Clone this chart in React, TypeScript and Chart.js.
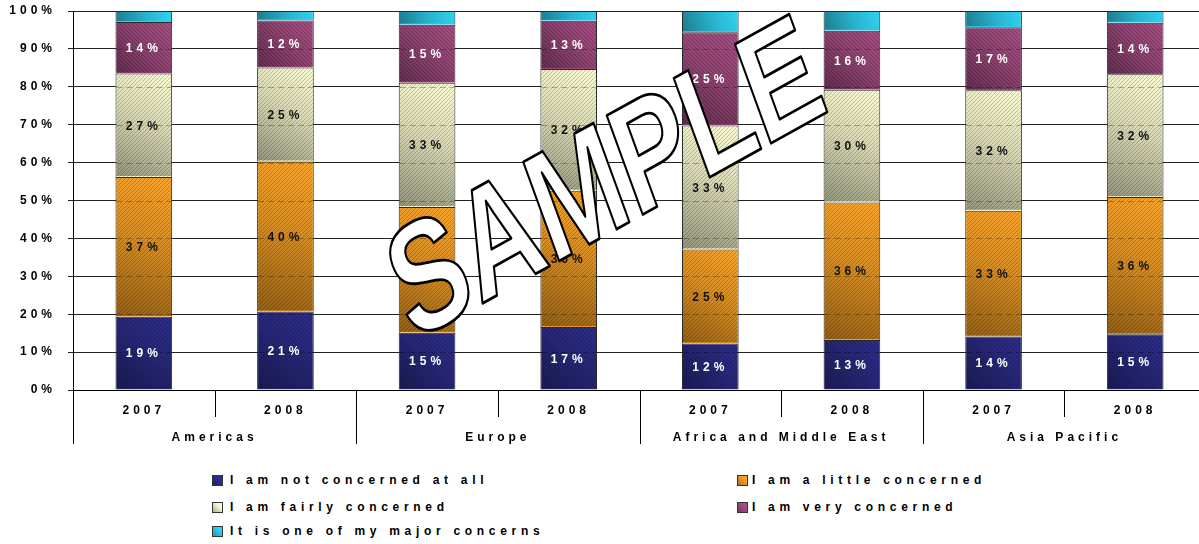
import React, { useEffect, useRef } from 'react';
import { Chart, registerables } from 'chart.js';

Chart.register(...registerables);

const yearLabels = ['2007', '2008', '2007', '2008', '2007', '2008', '2007', '2008'];
const regionLabels = ['Americas', 'Europe', 'Africa and Middle East', 'Asia Pacific'];
const seriesNames = [
  'I am not concerned at all',
  'I am a little concerned',
  'I am fairly concerned',
  'I am very concerned',
  'It is one of my major concerns',
];
const notConcerned = [19.3, 20.7, 15.1, 16.6, 12.3, 13.2, 14.1, 14.7];
const littleConcerned = [36.9, 39.6, 33.2, 36.0, 24.8, 36.3, 33.2, 36.2];
const fairlyConcerned = [27.3, 24.8, 32.8, 32.1, 32.7, 29.7, 31.8, 32.4];
const veryConcerned = [13.6, 12.4, 15.3, 12.7, 24.6, 15.6, 16.6, 13.6];
const majorConcern = [2.9, 2.5, 3.6, 2.6, 5.6, 5.2, 4.3, 3.1];
const seriesValues = [notConcerned, littleConcerned, fairlyConcerned, veryConcerned, majorConcern];

const seriesColors = ['#2C2C90', '#F8A42C', '#FBFBD3', '#A84C84', '#30D2F2'];
const hatchDirs = [-1, 1, 1, -1, 0];
const labelColors = ['#ffffff', '#111111', '#111111', '#ffffff', ''];

const FONT = '"Liberation Sans", Arial, Helvetica, sans-serif';

function makePattern(ctx: CanvasRenderingContext2D, color: string, dir: number) {
  const c = document.createElement('canvas');
  c.width = 4;
  c.height = 4;
  const g = c.getContext('2d') as CanvasRenderingContext2D;
  g.fillStyle = color;
  g.fillRect(0, 0, 4, 4);
  if (dir !== 0) {
    g.strokeStyle = 'rgba(0,0,0,0.2)';
    g.lineWidth = 1;
    g.beginPath();
    if (dir > 0) {
      g.moveTo(-1, 5); g.lineTo(5, -1);
      g.moveTo(-1, 1); g.lineTo(1, -1);
      g.moveTo(3, 5); g.lineTo(5, 3);
    } else {
      g.moveTo(-1, -1); g.lineTo(5, 5);
      g.moveTo(3, -1); g.lineTo(5, 1);
      g.moveTo(-1, 3); g.lineTo(1, 5);
    }
    g.stroke();
  }
  return ctx.createPattern(c, 'repeat') as CanvasPattern;
}

const spacingPlugin = {
  id: 'spacing',
  beforeUpdate(chart: any) { chart.ctx.letterSpacing = '4px'; },
  beforeLayout(chart: any) { chart.ctx.letterSpacing = '4px'; },
  beforeDraw(chart: any) { chart.ctx.letterSpacing = '4px'; },
};

const barDecorPlugin = {
  id: 'barDecor',
  afterDatasetsDraw(chart: any) {
    const ctx: CanvasRenderingContext2D = chart.ctx;
    const yScale = chart.scales.y;
    ctx.save();
    chart.data.datasets.forEach((ds: any, di: number) => {
      const meta = chart.getDatasetMeta(di);
      meta.data.forEach((el: any) => {
        const { x, y, base, width } = el.getProps(['x', 'y', 'base', 'width'], true);
        const l = x - width / 2;
        const r = x + width / 2;
        const t = Math.min(y, base);
        const b = Math.max(y, base);
        const g = ctx.createLinearGradient(l, b, r, t);
        g.addColorStop(0, 'rgba(0,0,0,0.42)');
        g.addColorStop(0.55, 'rgba(0,0,0,0.14)');
        g.addColorStop(1, 'rgba(0,0,0,0)');
        ctx.fillStyle = g;
        ctx.fillRect(l + 1, t + 1, width - 2, b - t - 2);
        ctx.setLineDash([6, 4]);
        ctx.strokeStyle = 'rgba(0,0,0,0.28)';
        ctx.lineWidth = 1;
        for (let v = 10; v < 100; v += 10) {
          const py = Math.round(yScale.getPixelForValue(v)) + 0.5;
          if (py > t + 2 && py < b - 2) {
            ctx.beginPath();
            ctx.moveTo(l + 1, py);
            ctx.lineTo(r - 1, py);
            ctx.stroke();
          }
        }
        ctx.setLineDash([]);
      });
    });
    ctx.font = `bold 12px ${FONT}`;
    (ctx as any).letterSpacing = '4px';
    ctx.textAlign = 'center';
    ctx.textBaseline = 'middle';
    chart.data.datasets.forEach((ds: any, di: number) => {
      if (!labelColors[di]) return;
      const meta = chart.getDatasetMeta(di);
      meta.data.forEach((el: any, i: number) => {
        const { x, y, base } = el.getProps(['x', 'y', 'base'], true);
        ctx.fillStyle = labelColors[di];
        ctx.fillText(Math.round(ds.data[i]) + '%', x, (y + base) / 2 + 1);
      });
    });
    ctx.restore();
  },
};

const separatorPlugin = {
  id: 'separators',
  afterDraw(chart: any) {
    const ctx: CanvasRenderingContext2D = chart.ctx;
    const xs = chart.scales.x;
    const bottom = chart.chartArea.bottom;
    const n = yearLabels.length;
    const p0 = xs.getPixelForValue(0);
    const cw = xs.getPixelForValue(1) - p0;
    ctx.save();
    ctx.strokeStyle = '#000';
    ctx.lineWidth = 1;
    for (let i = 0; i <= n; i++) {
      const px = Math.round(p0 - cw / 2 + i * cw) + 0.5;
      const len = i % 2 === 0 ? 54 : 27;
      ctx.beginPath();
      ctx.moveTo(px, bottom);
      ctx.lineTo(px, bottom + len);
      ctx.stroke();
    }
    ctx.restore();
  },
};

const watermarkPlugin = {
  id: 'watermark',
  afterDraw(chart: any) {
    const ctx: CanvasRenderingContext2D = chart.ctx;
    ctx.save();
    ctx.setTransform(0.656, -0.364, 0.342, 0.94, 413, 342);
    ctx.font = `bold 153px ${FONT}`;
    (ctx as any).letterSpacing = '0px';
    ctx.textAlign = 'left';
    ctx.textBaseline = 'alphabetic';
    ctx.lineJoin = 'round';
    ctx.fillStyle = '#ffffff';
    ctx.fillText('SAMPLE', 0, 0);
    ctx.strokeStyle = '#000000';
    ctx.lineWidth = 2.8;
    ctx.strokeText('SAMPLE', 0, 0);
    ctx.restore();
  },
};

const legendCols = [212, 737];
const legendTextOffset = [18, 15];
const legendRows = [480, 507, 531];

export default function App() {
  const ref = useRef<HTMLCanvasElement | null>(null);

  useEffect(() => {
    const canvas = ref.current;
    if (!canvas) return;
    const ctx = canvas.getContext('2d') as CanvasRenderingContext2D;
    const chart = new Chart(canvas, {
      type: 'bar',
      data: {
        labels: yearLabels,
        datasets: seriesNames.map((name, i) => ({
          label: name,
          data: seriesValues[i],
          backgroundColor: makePattern(ctx, seriesColors[i], hatchDirs[i]),
          borderColor: '#2a2a2a',
          borderWidth: 1,
          barPercentage: 0.4,
          categoryPercentage: 1,
        })),
      },
      options: {
        responsive: false,
        animation: false,
        devicePixelRatio: 1,
        layout: { padding: { top: 11, left: 0, right: 0, bottom: 5 } },
        plugins: {
          legend: { display: false },
          tooltip: { enabled: false },
        },
        scales: {
          x: {
            stacked: true,
            position: 'bottom',
            weight: 0,
            grid: { display: false, drawTicks: false },
            border: { display: true, color: '#000', width: 1 },
            ticks: {
              color: '#000',
              font: { family: FONT, size: 12, weight: 'bold' },
              padding: 13,
              maxRotation: 0,
              autoSkip: false,
            },
            afterFit(scale: any) { scale.height = 27; },
          },
          x2: {
            type: 'category',
            labels: regionLabels,
            position: 'bottom',
            weight: 1,
            offset: true,
            grid: { display: false, drawTicks: false },
            border: { display: false },
            ticks: {
              color: '#000',
              font: { family: FONT, size: 12, weight: 'bold' },
              padding: 13,
              maxRotation: 0,
              autoSkip: false,
            },
            afterFit(scale: any) { scale.height = 28; },
          },
          y: {
            stacked: true,
            min: 0,
            max: 100,
            grid: { color: '#222', lineWidth: 1, tickLength: 5, drawTicks: true },
            border: { display: true, color: '#000', width: 1 },
            ticks: {
              stepSize: 10,
              color: '#000',
              font: { family: FONT, size: 12, weight: 'bold' },
              padding: 12,
              callback: (v: any) => v + '%',
            },
            afterFit(scale: any) {
              scale.width = 73;
              scale.paddingTop = 0;
              scale.paddingBottom = 0;
            },
          },
        },
      },
      plugins: [spacingPlugin, barDecorPlugin, separatorPlugin, watermarkPlugin],
    } as any);
    return () => chart.destroy();
  }, []);

  return (
    <div style={{ position: 'absolute', left: 0, top: 0, width: 1199, height: 544, overflow: 'hidden', background: '#fff' }}>
      <canvas ref={ref} width={1206} height={450} style={{ display: 'block' }} />
      {seriesNames.map((name, i) => {
        const col = i % 2;
        const row = Math.floor(i / 2);
        const left = legendCols[col];
        const cy = legendRows[row];
        return (
          <React.Fragment key={name}>
            <div
              style={{
                position: 'absolute',
                left,
                top: cy - 5,
                width: 9,
                height: 9,
                border: '1px solid #333',
                background: `linear-gradient(45deg, rgba(0,0,0,0.3), rgba(0,0,0,0) 70%), ${seriesColors[i]}`,
              }}
            />
            <div
              style={{
                position: 'absolute',
                left: left + legendTextOffset[col],
                top: cy - 8,
                height: 16,
                lineHeight: '16px',
                whiteSpace: 'nowrap',
                fontFamily: FONT,
                fontWeight: 'bold',
                fontSize: 12,
                letterSpacing: '4.7px',
                color: '#000',
              }}
            >
              {name}
            </div>
          </React.Fragment>
        );
      })}
    </div>
  );
}
